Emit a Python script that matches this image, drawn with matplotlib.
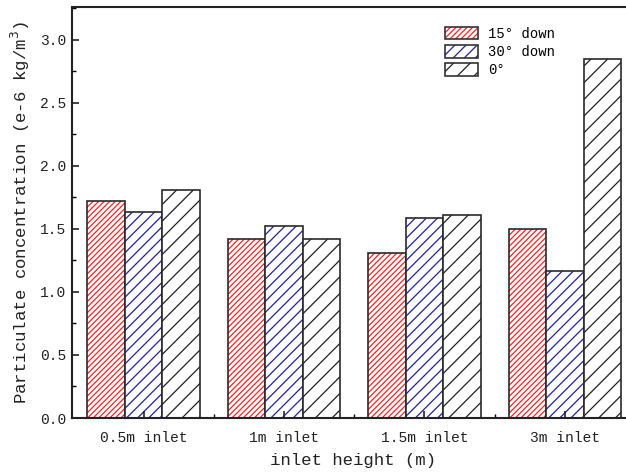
import numpy as np
import matplotlib
matplotlib.use("Agg")
import matplotlib.pyplot as plt
from matplotlib.patches import Patch
from matplotlib.legend_handler import HandlerTuple
from matplotlib.ticker import MultipleLocator, FixedLocator, FormatStrFormatter

plt.rcParams["font.family"] = ["Liberation Mono", "DejaVu Sans Mono"]
plt.rcParams["hatch.linewidth"] = 0.9

# ---- data ----
groups = ["0.5m inlet", "1m inlet", "1.5m inlet", "3m inlet"]
series_names = ["15° down", "30° down", "0°"]
down15 = [1.72, 1.42, 1.31, 1.50]
down30 = [1.63, 1.52, 1.585, 1.165]
flat0 = [1.81, 1.42, 1.607, 2.85]

hatch_colors = ["#ff2020", "#2020a0", "#202020"]
hatches = ["//////", "///", "//"]

x = np.arange(1, len(groups) + 1)
width = 0.267

fig = plt.figure(figsize=(6.26, 4.76), dpi=100)
ax = fig.add_axes([72 / 626, 58 / 476, 563 / 626, 410.7 / 476])

handles = []
for i, (vals, hc, h) in enumerate(zip([down15, down30, flat0], hatch_colors, hatches)):
    xs = x + (i - 1) * width
    # coloured hatch first, then a dark outline on top
    ax.bar(xs, vals, width, facecolor="white", edgecolor=hc, hatch=h, linewidth=0)
    ax.bar(xs, vals, width, fill=False, edgecolor="#2a2a2a", linewidth=1.2)
    handles.append((Patch(facecolor="white", edgecolor=hc, hatch=h, linewidth=0),
                    Patch(fill=False, edgecolor="#333333", linewidth=1.2)))

ax.set_xlim(0.49, 4.5)
ax.set_ylim(0, 3.256)
ax.set_xticks(x)
ax.set_xticklabels(groups)
ax.xaxis.set_minor_locator(FixedLocator([1.5, 2.5, 3.5]))
ax.yaxis.set_major_locator(MultipleLocator(0.5))
ax.yaxis.set_minor_locator(MultipleLocator(0.25))
ax.yaxis.set_major_formatter(FormatStrFormatter("%.1f"))
ax.tick_params(axis="both", which="major", direction="in", length=5, width=1.2,
               labelsize=10.5, colors="#222222")
ax.tick_params(axis="both", which="minor", direction="in", length=3, width=1.0)
ax.tick_params(axis="x", pad=9)
ax.tick_params(axis="y", pad=4)
for s in ax.spines.values():
    s.set_linewidth(1.5)
    s.set_color("#222222")

ax.set_xlabel("inlet height (m)", fontsize=12.5, color="#222222", labelpad=6)
ax.set_ylabel("Particulate concentration (e-6 kg/m$^3$)", fontsize=12.5,
              color="#222222", labelpad=6)

ax.legend(handles, series_names, handler_map={tuple: HandlerTuple(ndivide=1)},
          loc="upper left", bbox_to_anchor=(445 / 626, 1 - 27 / 476),
          bbox_transform=fig.transFigure, frameon=False, fontsize=10,
          handlelength=2.4, handleheight=1.0, labelspacing=0.3,
          handletextpad=0.7, borderpad=0, borderaxespad=0)

fig.savefig("out.png", dpi=100)
